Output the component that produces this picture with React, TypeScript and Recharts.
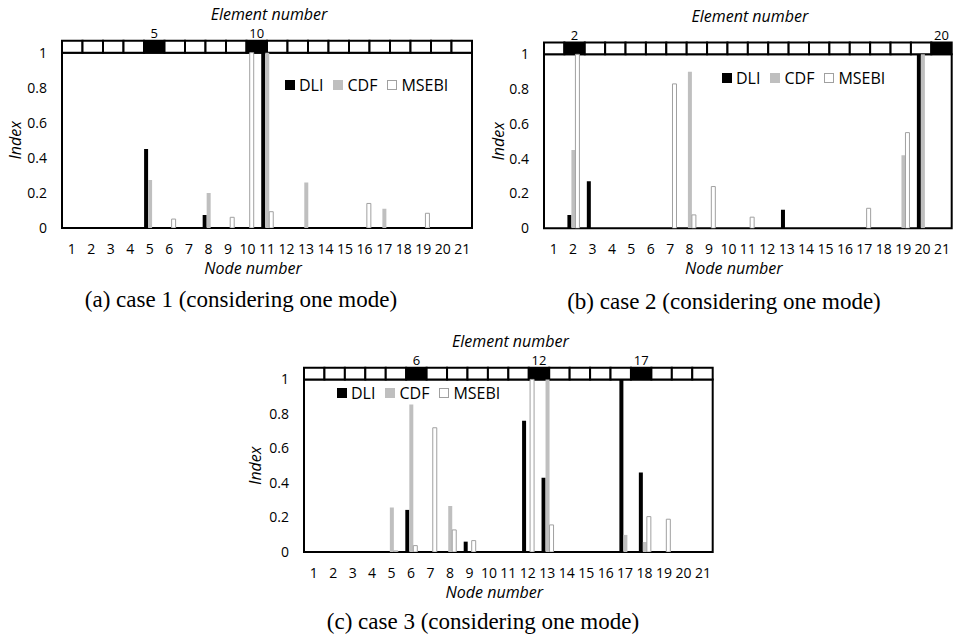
import React from 'react';
import { BarChart, Bar, XAxis, YAxis, ReferenceArea, Legend } from 'recharts';

const NODES = [1, 2, 3, 4, 5, 6, 7, 8, 9, 10, 11, 12, 13, 14, 15, 16, 17, 18, 19, 20, 21];
const ELEMENTS = [1, 2, 3, 4, 5, 6, 7, 8, 9, 10, 11, 12, 13, 14, 15, 16, 17, 18, 19, 20];
const Y_TICKS = [0, 0.2, 0.4, 0.6, 0.8, 1];
const Y_MAX = 1.068;

// case 1
const case1DLI = [0, 0, 0, 0, 0.45, 0, 0, 0.074, 0, 0, 1, 0, 0, 0, 0, 0, 0, 0, 0, 0, 0];
const case1CDF = [0, 0, 0, 0, 0.274, 0, 0, 0.2, 0, 0, 1, 0, 0.26, 0, 0, 0, 0.11, 0, 0, 0, 0];
const case1MSEBI = [0, 0, 0, 0, 0, 0.051, 0, 0, 0.061, 1, 0.093, 0, 0, 0, 0, 0.14, 0, 0, 0.084, 0, 0];
const case1Damaged = [5, 10];

// case 2
const case2DLI = [0, 0.077, 0.27, 0, 0, 0, 0, 0, 0, 0, 0, 0, 0.106, 0, 0, 0, 0, 0, 0, 1, 0];
const case2CDF = [0, 0.45, 0, 0, 0, 0, 0, 0.9, 0, 0, 0, 0, 0, 0, 0, 0, 0, 0, 0.42, 1, 0];
const case2MSEBI = [0, 1, 0, 0, 0, 0, 0.83, 0.077, 0.24, 0, 0.064, 0, 0, 0, 0, 0, 0.115, 0, 0.55, 0, 0];
const case2Damaged = [2, 20];

// case 3
const case3DLI = [0, 0, 0, 0, 0, 0.244, 0, 0, 0.06, 0, 0, 0.76, 0.43, 0, 0, 0, 1, 0.46, 0, 0, 0];
const case3CDF = [0, 0, 0, 0, 0.258, 0.855, 0, 0.267, 0, 0, 0, 0, 1, 0, 0, 0, 0.099, 0.058, 0, 0, 0];
const case3MSEBI = [0, 0, 0, 0, 0.006, 0.037, 0.72, 0.128, 0.066, 0, 0, 1, 0.157, 0, 0, 0, 0, 0.205, 0.19, 0, 0];
const case3Damaged = [6, 12, 17];

const SERIES = [
  { key: 'DLI', fill: '#000000', stroke: undefined as string | undefined },
  { key: 'CDF', fill: '#bfbfbf', stroke: undefined as string | undefined },
  { key: 'MSEBI', fill: '#ffffff', stroke: '#a0a0a0' },
];

const FONT = '"Open Sans", "Noto Sans", sans-serif';
const TICK = { fontSize: 14, fill: '#000', fontFamily: FONT };
const EL_TICK = { fontSize: 13, fill: '#000', fontFamily: FONT };

const LegendContent = (props: any) => {
  const items = [...(props.payload || [])].sort(
    (a: any, b: any) => SERIES.findIndex((s) => s.key === a.dataKey) - SERIES.findIndex((s) => s.key === b.dataKey)
  );
  return (
    <div style={{ display: 'flex', alignItems: 'center', fontFamily: FONT, fontSize: 16, lineHeight: '20px', color: '#000', whiteSpace: 'nowrap' }}>
      {items.map((it: any) => {
        const s = SERIES.find((x) => x.key === it.dataKey) || SERIES[0];
        return (
          <div key={String(it.dataKey)} style={{ display: 'flex', alignItems: 'center', marginRight: 10 }}>
            <span style={{ display: 'inline-block', width: 10, height: 10, boxSizing: 'border-box', background: s.fill, border: s.stroke ? `1px solid ${s.stroke}` : 'none', marginRight: 4 }} />
            <span>{it.value}</span>
          </div>
        );
      })}
    </div>
  );
};

const makeIndexLabel = (dx: number) => (props: any) => {
  const vb = props.viewBox || {};
  const cx = vb.x + dx;
  const cy = vb.y + vb.height - (vb.height / Y_MAX) * 0.5;
  return (
    <text x={cx} y={cy} transform={`rotate(-90, ${cx}, ${cy})`} textAnchor="middle" dominantBaseline="central" fontFamily={FONT} fontStyle="italic" fontSize={16} fill="#000">
      Index
    </text>
  );
};

const NodeLabel = (props: any) => {
  const vb = props.viewBox || {};
  return (
    <text x={vb.x + vb.width / 2 - 14} y={vb.y + 46} textAnchor="middle" fontFamily={FONT} fontStyle="italic" fontSize={16} fill="#000">
      Node number
    </text>
  );
};

const ElementLabel = (props: any) => {
  const vb = props.viewBox || {};
  return (
    <text x={vb.x + vb.width / 2 + 2} y={vb.y + vb.height - 21} textAnchor="middle" fontFamily={FONT} fontStyle="italic" fontSize={16} fill="#000">
      Element number
    </text>
  );
};

type PanelCfg = {
  dli: number[];
  cdf: number[];
  msebi: number[];
  damaged: number[];
  caption: string;
  box: { left: number; top: number; width: number; height: number };
  margin: { top: number; right: number; bottom: number; left: number };
  yWidth: number;
  legend: { left: number; top: number };
  indexX: number;
  cap: { cx: number; cy: number };
};

const PANELS: PanelCfg[] = [
  {
    dli: case1DLI, cdf: case1CDF, msebi: case1MSEBI, damaged: case1Damaged,
    caption: '(a) case 1 (considering one mode)',
    box: { left: 0, top: 0, width: 478, height: 290 },
    margin: { top: 20.7, right: 6, bottom: 32, left: 0 },
    yWidth: 62, legend: { left: 285, top: 75 }, indexX: 15, cap: { cx: 241, cy: 300 },
  },
  {
    dli: case2DLI, cdf: case2CDF, msebi: case2MSEBI, damaged: case2Damaged,
    caption: '(b) case 2 (considering one mode)',
    box: { left: 478, top: 0, width: 478, height: 290 },
    margin: { top: 22.5, right: 4.3, bottom: 31.7, left: 0 },
    yWidth: 66, legend: { left: 244, top: 68 }, indexX: 20, cap: { cx: 724, cy: 302 },
  },
  {
    dli: case3DLI, cdf: case3CDF, msebi: case3MSEBI, damaged: case3Damaged,
    caption: '(c) case 3 (considering one mode)',
    box: { left: 242, top: 330, width: 478, height: 290 },
    margin: { top: 17.7, right: 7.3, bottom: 38, left: 0 },
    yWidth: 62, legend: { left: 95, top: 53 }, indexX: 13, cap: { cx: 483, cy: 622 },
  },
];

const legendOrder = (item: any) => SERIES.findIndex((s) => s.key === item.dataKey);

function CasePanel({ p }: { p: PanelCfg }) {
  const data = NODES.map((n, i) => ({ node: n, DLI: p.dli[i], CDF: p.cdf[i], MSEBI: p.msebi[i] }));
  const elTicks = p.damaged.map((e) => e - 0.5);
  return (
    <div style={{ position: 'absolute', left: p.box.left, top: p.box.top }}>
      <BarChart width={p.box.width} height={p.box.height} data={data} margin={p.margin} barGap={0} barSize={4}>
        <XAxis
          xAxisId="node" dataKey="node" type="category" orientation="bottom" interval={0}
          tickLine={false} axisLine={false} tickSize={0} tickMargin={16} height={30} tick={TICK}
          label={NodeLabel}
        />
        <XAxis
          xAxisId="el" type="number" domain={[0, ELEMENTS.length]} orientation="top" ticks={elTicks}
          tickFormatter={(v: number) => String(v + 0.5)} interval={0} allowDataOverflow
          tickLine={false} axisLine={false} tickSize={0} tickMargin={3} height={20} tick={EL_TICK}
          label={ElementLabel}
        />
        <YAxis
          domain={[0, Y_MAX]} ticks={Y_TICKS} width={p.yWidth} interval={0} allowDataOverflow
          tickLine={false} axisLine={false} tickSize={0} tickMargin={15} tick={TICK}
          label={makeIndexLabel(p.indexX)}
        />
        <Legend
          content={LegendContent} layout="horizontal" verticalAlign="middle" align="center"
          itemSorter={legendOrder as any}
          wrapperStyle={{ left: p.legend.left, top: p.legend.top, width: 'auto', height: 'auto' }}
        />
        {SERIES.map((s) => (
          <Bar
            key={s.key} xAxisId="node" dataKey={s.key} name={s.key} fill={s.fill}
            stroke={s.stroke} strokeWidth={s.stroke ? 1 : 0} isAnimationActive={false}
          />
        ))}
        <ReferenceArea
          xAxisId="el" x1={0} x2={ELEMENTS.length} y1={0} y2={1}
          fill="none" fillOpacity={0} stroke="#000" strokeWidth={2} strokeOpacity={1} ifOverflow="visible"
        />
        {ELEMENTS.map((e) => (
          <ReferenceArea
            key={`el-${e}`} xAxisId="el" x1={e - 1} x2={e} y1={1} y2={Y_MAX}
            fill={p.damaged.includes(e) ? '#000' : '#fff'} fillOpacity={1}
            stroke="#000" strokeWidth={2} strokeOpacity={1} ifOverflow="visible"
          />
        ))}
      </BarChart>
    </div>
  );
}

export default function App() {
  return (
    <div style={{ position: 'absolute', left: 0, top: 0, width: 956, height: 644, background: '#fff', overflow: 'hidden' }}>
      {PANELS.map((p, i) => (
        <CasePanel key={i} p={p} />
      ))}
      {PANELS.map((p, i) => (
        <div
          key={`cap-${i}`}
          style={{
            position: 'absolute', left: p.cap.cx - 250, top: p.cap.cy - 14, width: 500, height: 28,
            textAlign: 'center', fontFamily: '"Liberation Serif", "Times New Roman", serif',
            fontSize: 23, lineHeight: '28px', color: '#000', whiteSpace: 'nowrap',
          }}
        >
          {p.caption}
        </div>
      ))}
    </div>
  );
}
